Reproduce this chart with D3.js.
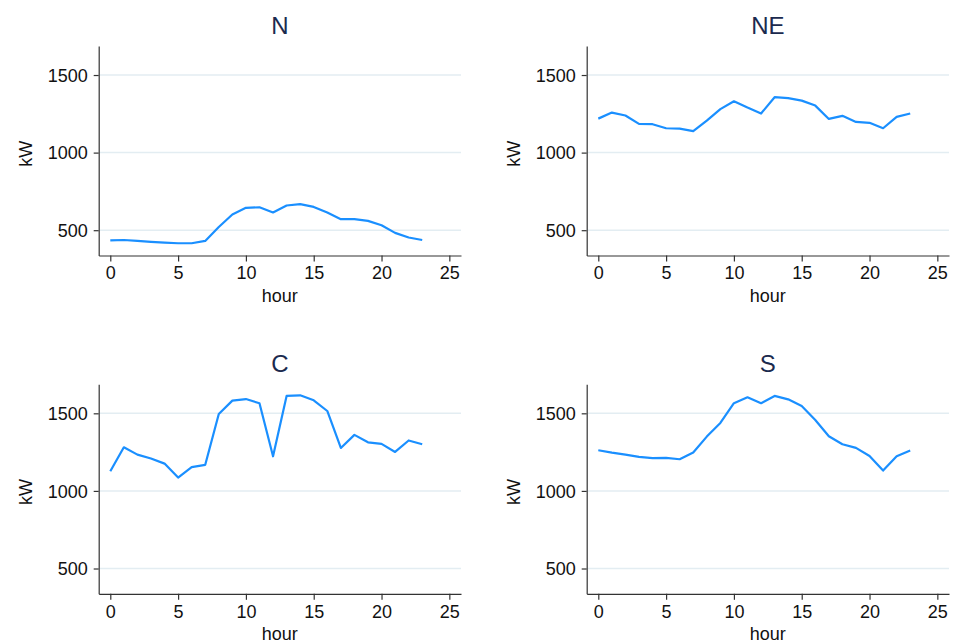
<!DOCTYPE html>
<html>
<head>
<meta charset="utf-8">
<script src="https://cdn.jsdelivr.net/npm/d3@7"></script>
<style>
  body { margin: 0; background: #fff; }
  text { font-family: "Liberation Sans", Arial, sans-serif; }
</style>
</head>
<body>
<script>
const hours = d3.range(0, 24);
const regions = ["N", "NE", "C", "S"];

const kwN = [434, 437, 431, 425, 420, 416, 416, 431, 521, 601, 644, 648,
             614, 659, 668, 650, 614, 571, 571, 560, 532, 483, 453, 437];
const kwNE = [1219, 1258, 1239, 1185, 1183, 1157, 1155, 1138, 1206, 1280, 1331, 1290,
              1252, 1357, 1351, 1335, 1303, 1217, 1237, 1198, 1192, 1157, 1230, 1252];
const kwC = [1127, 1281, 1234, 1209, 1176, 1086, 1153, 1168, 1496, 1582, 1592, 1565,
             1223, 1612, 1616, 1584, 1515, 1277, 1361, 1313, 1303, 1251, 1325, 1301];
const kwS = [1262, 1247, 1234, 1219, 1211, 1213, 1204, 1247, 1350, 1438, 1565, 1603,
             1565, 1612, 1590, 1547, 1457, 1352, 1301, 1277, 1225, 1131, 1223, 1260];

const xTicks = [0, 5, 10, 15, 20, 25];
const yTicks = [500, 1000, 1500];

const series = [kwN, kwNE, kwC, kwS];

const svg = d3.select("body").append("svg")
    .attr("width", 954)
    .attr("height", 643);

// panel origins (left of y axis, top of y axis)
const panelPos = [[98.7, 46], [586.7, 46], [98.7, 384.3], [586.7, 384.3]];
const pw = 362.3, ph = 209.5;

regions.forEach(function (name, i) {
    const g = svg.append("g")
        .attr("transform", "translate(" + panelPos[i][0] + "," + panelPos[i][1] + ")");

    const x = d3.scaleLinear().domain([-0.855, 25.86]).range([0, pw]);
    const y = d3.scaleLinear().domain([337, 1687]).range([ph, 0]);

    // gridlines
    g.selectAll(".grid")
        .data(yTicks)
        .enter().append("line")
        .attr("x1", 1).attr("x2", pw)
        .attr("y1", d => y(d)).attr("y2", d => y(d))
        .attr("stroke", "#e3edf2")
        .attr("stroke-width", 1.5);

    const yAxis = g.append("g")
        .call(d3.axisLeft(y).tickValues(yTicks).tickFormat(d3.format("d"))
            .tickSize(5).tickSizeOuter(0).tickPadding(6));
    const xAxis = g.append("g")
        .attr("transform", "translate(0," + ph + ")")
        .call(d3.axisBottom(x).tickValues(xTicks).tickFormat(d3.format("d"))
            .tickSize(6).tickSizeOuter(0).tickPadding(5));

    [yAxis, xAxis].forEach(function (ax) {
        ax.select(".domain").attr("stroke", "#333").attr("stroke-width", 1.2);
        ax.selectAll(".tick line").attr("stroke", "#333").attr("stroke-width", 1.2);
        ax.selectAll("text")
            .attr("font-size", 18)
            .attr("fill", "#111")
            .style("font-family", "'Liberation Sans', Arial, sans-serif");
    });
    yAxis.selectAll("text").attr("dy", "0.35em");

    const line = d3.line()
        .x((d, j) => x(hours[j]))
        .y(d => y(d));

    g.append("path")
        .datum(series[i])
        .attr("d", line)
        .attr("fill", "none")
        .attr("stroke", "#1a8fff")
        .attr("stroke-width", 2.2)
        .attr("stroke-linejoin", "round");

    g.append("text")
        .attr("x", pw / 2)
        .attr("y", -12.5)
        .attr("text-anchor", "middle")
        .attr("font-size", 24)
        .attr("fill", "#1b2a4e")
        .text(name);

    g.append("text")
        .attr("x", pw / 2)
        .attr("y", ph + 46)
        .attr("text-anchor", "middle")
        .attr("font-size", 18)
        .attr("fill", "#111")
        .text("hour");

    g.append("text")
        .attr("transform", "translate(-67," + (ph / 2 + 3) + ") rotate(-90)")
        .attr("text-anchor", "middle")
        .attr("font-size", 18)
        .attr("fill", "#111")
        .text("kW");
});
</script>
</body>
</html>
